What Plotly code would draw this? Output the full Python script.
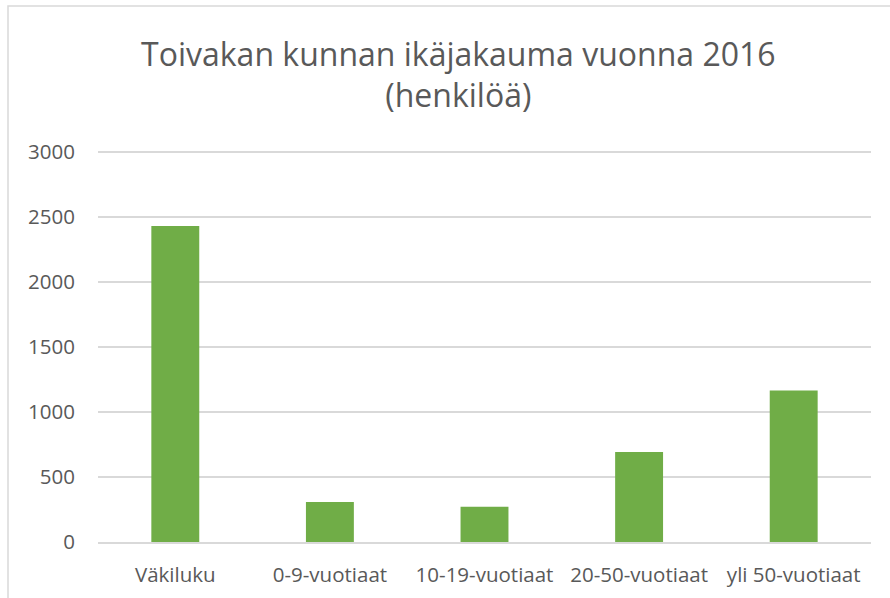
import plotly.graph_objects as go

categories = ["Väkiluku", "0-9-vuotiaat", "10-19-vuotiaat", "20-50-vuotiaat", "yli 50-vuotiaat"]
population = [2433, 308, 272, 692, 1167]
y_ticks = [0, 500, 1000, 1500, 2000, 2500, 3000]

text_color = "#595959"
grid_color = "#d9d9d9"

fig = go.Figure(
    go.Bar(
        x=categories,
        y=population,
        marker=dict(color="#70ad47", line=dict(width=0)),
        hoverinfo="x+y",
    )
)

fig.update_layout(
    width=890,
    height=598,
    margin=dict(l=98, r=19, t=151, b=56),
    paper_bgcolor="white",
    plot_bgcolor="white",
    bargap=0.69,
    showlegend=False,
    font=dict(family="Open Sans", color=text_color, size=20.5),
    title=dict(
        text="Toivakan kunnan ikäjakauma vuonna 2016<br>(henkilöä)",
        x=0.515,
        xanchor="center",
        y=0.89,
        yanchor="top",
        font=dict(family="Open Sans", size=32, color=text_color),
    ),
)

fig.update_yaxes(
    range=[0, 3010],
    tickvals=y_ticks,
    showgrid=True,
    gridcolor=grid_color,
    gridwidth=1.6,
    zeroline=False,
    showline=False,
    ticks="",
    ticklabelstandoff=22,
    automargin=False,
    tickfont=dict(size=20.5),
)
fig.update_xaxes(
    showline=True,
    linecolor=grid_color,
    linewidth=1.6,
    ticks="",
    ticklabelstandoff=14,
    automargin=False,
    tickfont=dict(size=20.5),
)

# chart frame like the original spreadsheet chart
plot_w = 890 - 98 - 19
plot_h = 598 - 151 - 56
fig.add_shape(
    type="rect",
    xref="paper",
    yref="paper",
    x0=(8 - 98) / plot_w,
    x1=1.1,
    y0=-0.2,
    y1=(598 - 56 - 6) / plot_h,
    line=dict(color=grid_color, width=1.5),
    fillcolor="rgba(0,0,0,0)",
    layer="below",
)

# drop the default page margin so the figure sits at the window corner
fig.write_html(
    "out.html",
    config={"displayModeBar": False},
    post_script="document.body.style.margin = '0';",
)
